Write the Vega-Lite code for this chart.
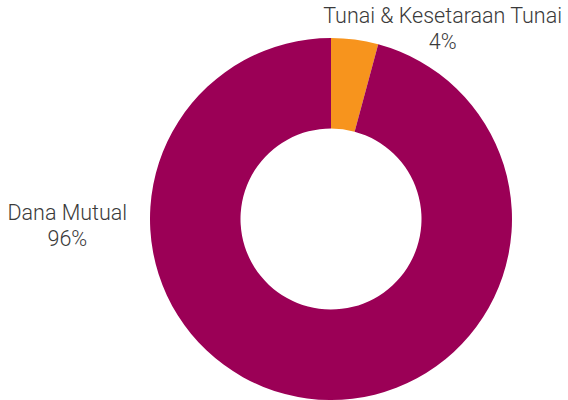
{
  "$schema": "https://vega.github.io/schema/vega-lite/v6.json",
  "width": 474,
  "height": 362,
  "autosize": {"type": "none"},
  "padding": {"left": 94, "top": 38, "right": 0, "bottom": 0},
  "background": "white",
  "data": {
    "values": [
      {"category": "Tunai & Kesetaraan Tunai", "label": "Tunai & Kesetaraan Tunai\n4%", "value": 4.2, "rank": 1},
      {"category": "Dana Mutual", "label": "Dana Mutual\n96%", "value": 95.8, "rank": 2}
    ]
  },
  "encoding": {
    "theta": {"field": "value", "type": "quantitative", "stack": true},
    "order": {"field": "rank", "type": "quantitative"}
  },
  "layer": [
    {
      "mark": {"type": "arc", "outerRadius": 181, "innerRadius": 90.5},
      "encoding": {
        "color": {
          "field": "category",
          "type": "nominal",
          "scale": {"domain": ["Tunai & Kesetaraan Tunai", "Dana Mutual"], "range": ["#F7941D", "#9B0056"]},
          "legend": null
        }
      }
    },
    {
      "mark": {"type": "text", "radius": 195, "lineBreak": "\n", "font": "Roboto", "fontSize": 21.5, "fontWeight": 300, "fill": "#3a3a3a", "lineHeight": 26, "dx": 86, "dy": -9},
      "encoding": {
        "text": {"condition": {"test": "datum.rank === 1", "field": "label"}, "value": ""}
      }
    },
    {
      "mark": {"type": "text", "radius": 195, "lineBreak": "\n", "font": "Roboto", "fontSize": 21.5, "fontWeight": 300, "fill": "#3a3a3a", "lineHeight": 26, "dx": -238, "dy": -198},
      "encoding": {
        "text": {"condition": {"test": "datum.rank === 2", "field": "label"}, "value": ""}
      }
    }
  ],
  "config": {"view": {"stroke": null}}
}
